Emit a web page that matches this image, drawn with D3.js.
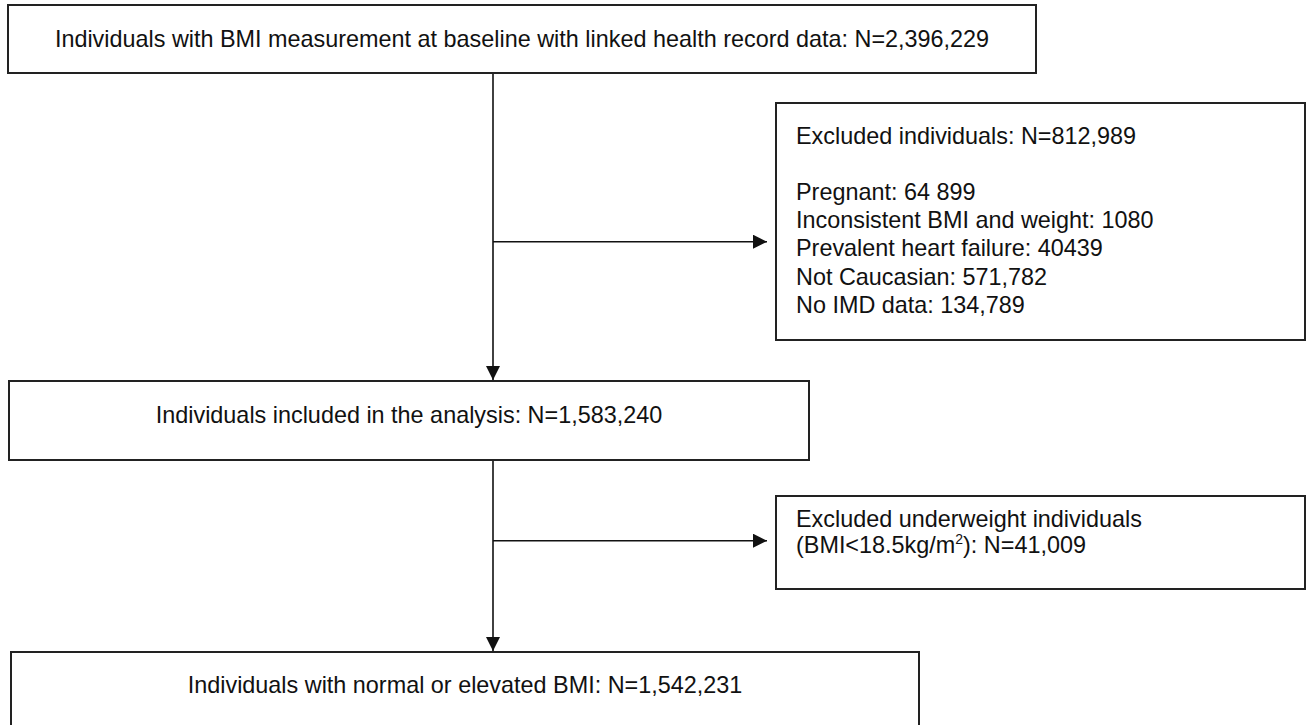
<!DOCTYPE html>
<html>
<head>
<meta charset="utf-8">
<script src="https://d3js.org/d3.v7.min.js"></script>
<style>
  body { margin: 0; background: #fff; }
  svg { display: block; font-family: "Liberation Sans", Arial, sans-serif; }
</style>
</head>
<body>
<div id="chart"></div>
<script>
// flow steps (main column) and what got dropped at each step
var mainSteps = [
  "Individuals with BMI measurement at baseline with linked health record data: N=2,396,229",
  "Individuals included in the analysis: N=1,583,240",
  "Individuals with normal or elevated BMI: N=1,542,231"
]
var exclusionTitle = "Excluded individuals: N=812,989"
var exclusionReasons = [
  "Pregnant: 64 899",
  "Inconsistent BMI and weight: 1080",
  "Prevalent heart failure: 40439",
  "Not Caucasian: 571,782",
  "No IMD data: 134,789"
]
var underweightLines = ["Excluded underweight individuals", "(BMI<18.5kg/m", "2", "): N=41,009"]

// layout (pixels)
var W = 1306, H = 725
var fontSize = 23.4
var lineH = 28.2
var stroke = "#222"
var mainBoxes = [
  { x0: 8,  y0: 5,   x1: 1036, y1: 73 },
  { x0: 9,  y0: 381, x1: 809,  y1: 460 },
  { x0: 11, y0: 652, x1: 919,  y1: 760 }
]
var sideBoxes = [
  { x0: 776, y0: 103, x1: 1305, y1: 340 },
  { x0: 776, y0: 496, x1: 1305, y1: 589 }
]
var trunkX = 493
var branchY = [241.7, 540.7]
var mainBaseline = [47, 423, 693]
var head = 14

var svg = d3.select("#chart").append("svg")
    .attr("width", W)
    .attr("height", H)

svg.append("defs").append("marker")
    .attr("id", "arrow")
    .attr("viewBox", "0 0 10 10")
    .attr("refX", 10).attr("refY", 5)
    .attr("markerUnits", "userSpaceOnUse")
    .attr("markerWidth", head).attr("markerHeight", head)
    .attr("orient", "auto")
  .append("path")
    .attr("d", "M0,0L10,5L0,10Z")
    .attr("fill", "#111")

// boxes
svg.selectAll("rect.main")
  .data(mainBoxes)
  .enter().append("rect")
    .attr("class", "main")
    .attr("x", d => d.x0).attr("y", d => d.y0)
    .attr("width", d => d.x1 - d.x0).attr("height", d => d.y1 - d.y0)
    .attr("fill", "#fff").attr("stroke", stroke).attr("stroke-width", 2)

svg.selectAll("rect.side")
  .data(sideBoxes)
  .enter().append("rect")
    .attr("class", "side")
    .attr("x", d => d.x0).attr("y", d => d.y0)
    .attr("width", d => d.x1 - d.x0).attr("height", d => d.y1 - d.y0)
    .attr("fill", "#fff").attr("stroke", stroke).attr("stroke-width", 2)

// vertical arrows between main boxes
d3.range(mainBoxes.length - 1).forEach(function(i) {
  svg.append("line")
    .attr("x1", trunkX).attr("y1", mainBoxes[i].y1 + 1)
    .attr("x2", trunkX).attr("y2", mainBoxes[i + 1].y0 - 1)
    .attr("stroke", "#111").attr("stroke-width", 1.6)
    .attr("marker-end", "url(#arrow)")
})

// side arrows to exclusion boxes
branchY.forEach(function(y, i) {
  svg.append("line")
    .attr("x1", trunkX).attr("y1", y)
    .attr("x2", sideBoxes[i].x0 - 9).attr("y2", y)
    .attr("stroke", "#111").attr("stroke-width", 1.6)
    .attr("marker-end", "url(#arrow)")
})

// main box labels, centred
svg.selectAll("text.main")
  .data(mainSteps)
  .enter().append("text")
    .attr("class", "main")
    .attr("x", (d, i) => (mainBoxes[i].x0 + mainBoxes[i].x1) / 2)
    .attr("y", (d, i) => mainBaseline[i])
    .attr("text-anchor", "middle")
    .attr("font-size", fontSize)
    .attr("fill", "#111")
    .text(d => d)

// exclusion box
var ex = svg.append("text")
    .attr("x", 796)
    .attr("font-size", fontSize)
    .attr("fill", "#111")
ex.append("tspan").attr("x", 796).attr("y", 144.3).text(exclusionTitle)
exclusionReasons.forEach(function(r, i) {
  ex.append("tspan").attr("x", 796).attr("y", 200 + i * lineH).text(r)
})

// underweight box, two separate lines
svg.append("text")
    .attr("x", 796).attr("y", 527)
    .attr("font-size", fontSize)
    .attr("fill", "#111")
    .text(underweightLines[0])
var l2 = svg.append("text")
    .attr("x", 796).attr("y", 553)
    .attr("font-size", fontSize)
    .attr("fill", "#111")
l2.append("tspan").text(underweightLines[1])
l2.append("tspan").attr("dy", -9).attr("font-size", 14).text(underweightLines[2])
l2.append("tspan").attr("dy", 9).text(underweightLines[3])
</script>
</body>
</html>
